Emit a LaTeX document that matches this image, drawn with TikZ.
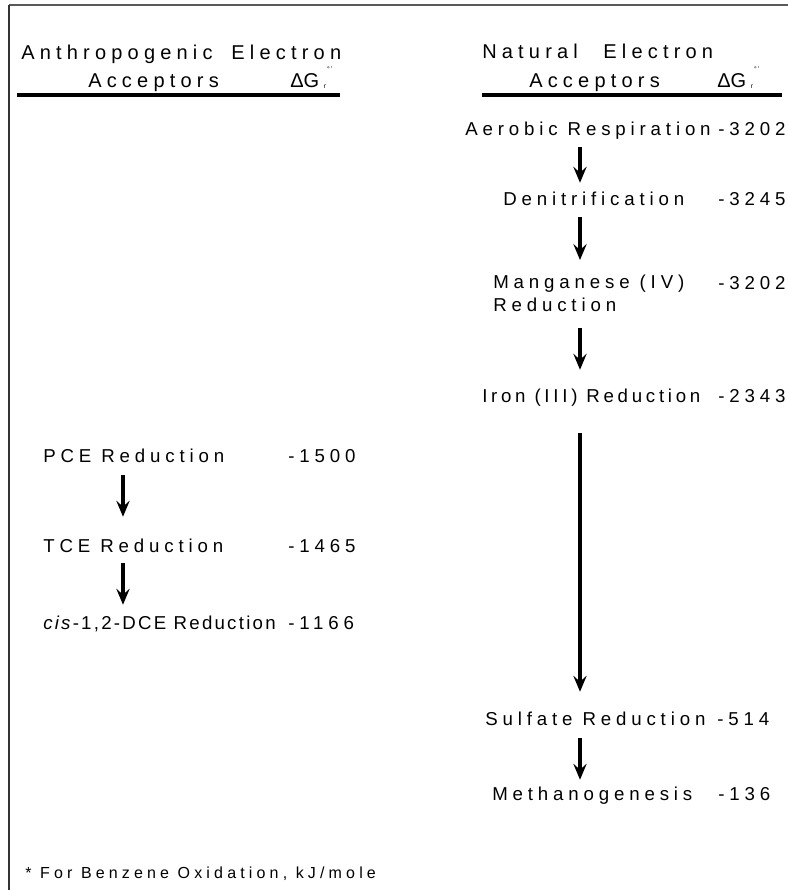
\documentclass[tikz,border=0pt]{standalone}
\usepackage{fontspec}
\setmainfont{Liberation Sans}
\newfontfamily\spaced{Liberation Sans}[LetterSpace=26]
\newfontfamily\spacedmid{Liberation Sans}[LetterSpace=20]
\newfontfamily\spacedsm{Liberation Sans}[LetterSpace=12]
\usetikzlibrary{positioning,calc,arrows.meta}

% delta G with its tiny marks
\newcommand{\dGr}{ΔG\rlap{\kern6pt\raisebox{12pt}{\fontsize{5}{5}\selectfont °\,'}}\rlap{\kern3.5pt\raisebox{-1pt}{\fontsize{5}{5}\selectfont r}}}

\begin{document}
\begin{tikzpicture}[x=0.75pt, y=-0.75pt,
	txt/.style={inner sep=0pt, font=\spaced\fontsize{14}{17.25}\selectfont},
	lbl/.style={txt, anchor=base west, text height=10pt, text depth=3pt},
	hdr/.style={anchor=base west, inner sep=0pt, font=\spaced\fontsize{15}{18}\selectfont},
	dg/.style={anchor=base west, inner sep=0pt, font=\fontsize{15}{18}\selectfont},
	flow/.style={-{Stealth[length=12pt, width=10pt, inset=4.5pt]}, line width=2.7pt}]

	% page size
	\useasboundingbox (0,0) rectangle (788,890);

	% --- FRAME ---
	\draw[gray!70!black, line width=1.1pt] (9,5) -- (788,5);
	\draw[gray!40!black, line width=1.1pt] (9,5) -- (9,890);

	% --- HEADERS ---
	\node[hdr] (anth) at (21,59) {Anthropogenic\hspace{6pt} Electron};
	\node[hdr] (accL) at (88,87) {Acceptors};
	\node[dg] (dgL) at (290,87) {\dGr};
	\node[hdr] (nat) at (482,58) {Natural\hspace{11pt} Electron};
	\node[hdr] (accR) at (529,87) {Acceptors};
	\node[dg] (dgR) at (717,87) {\dGr};
	\draw[line width=2.4pt] (17,95) -- (340,95);
	\draw[line width=2.4pt] (482,95) -- (782,95);

	% --- NATURAL ACCEPTORS ---
	\node[lbl] (aer) at (465,135) {Aerobic Respiration};
	\node[lbl] (den) at (503,205) {Denitrification};
	\node[txt, anchor=north west, align=left] (mang) at (493,275) {Manganese (IV)\\Reduction};
	\node[lbl, font=\spacedmid\fontsize{14}{17.25}\selectfont] (iron) at (482,402) {Iron (III) Reduction};
	\node[lbl] (sulf) at (485,725) {Sulfate Reduction};
	\node[lbl] (meth) at (492,800) {Methanogenesis};

	% --- ANTHROPOGENIC ACCEPTORS ---
	\node[lbl] (pce) at (43,462) {PCE Reduction};
	\node[lbl] (tce) at (43,552) {TCE Reduction};
	\node[lbl, font=\spacedsm\fontsize{14}{17.25}\selectfont] (cis) at (43,629) {\textit{cis}-1,2-DCE Reduction};

	% energies (name/x/y/value)
	\foreach \nm/\x/\y/\v in {
		eaer/718/135/-3202, eden/718/205/-3245, emang/718/289/-3202,
		eiron/718/402/-2343, esulf/717/725/-514, emeth/718/800/-136,
		epce/288/462/-1500, etce/288/552/-1465, ecis/288/629/-1166} {
		\node[lbl] (\nm) at (\x,\y) {\v};
	}

	% --- ARROWS ---
	\coordinate (ax) at (580,0);
	\coordinate (bx) at (123,0);
	\draw[flow, shorten <=6pt, shorten >=6.5pt] (aer.south -| ax) -- (den.north -| ax);
	\draw[flow, shorten <=6pt, shorten >=11.25pt] (den.south -| ax) -- (mang.north -| ax);
	\draw[flow, shorten <=12pt, shorten >=14pt] (mang.south -| ax) -- (iron.north -| ax);
	\draw[flow, shorten <=20.25pt, shorten >=14.75pt] (iron.south -| ax) -- (sulf.north -| ax);
	\draw[flow, shorten <=6.75pt, shorten >=5pt] (sulf.south -| ax) -- (meth.north -| ax);
	\draw[flow, shorten <=6.75pt, shorten >=16.25pt] (pce.south -| bx) -- (tce.north -| bx);
	\draw[flow, shorten <=5.25pt, shorten >=8pt] (tce.south -| bx) -- (cis.north -| bx);

	% footnote
	\node[anchor=base west, inner sep=0pt, font=\spaced\fontsize{12}{14}\selectfont] (note) at (25,878) {* For Benzene Oxidation, kJ/mole};

\end{tikzpicture}
\end{document}
